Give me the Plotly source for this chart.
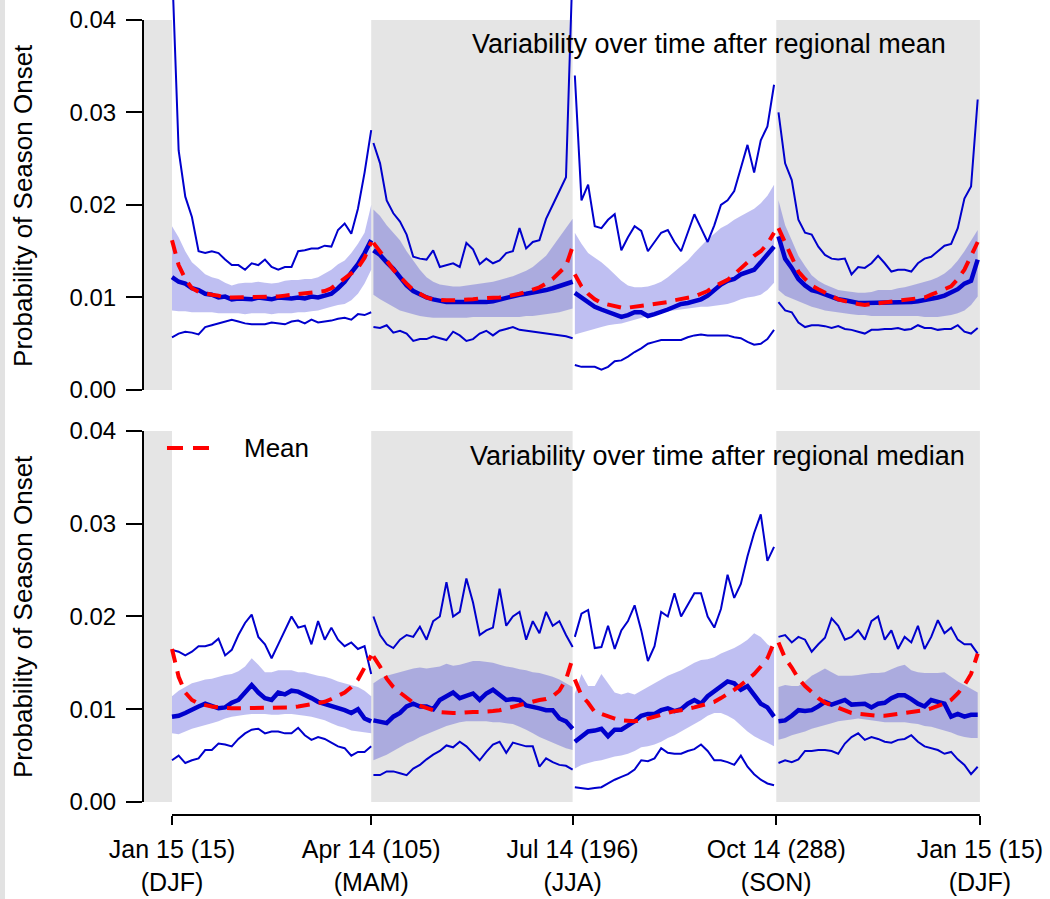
import plotly.graph_objects as go

# All probability values below are in units of 0.0001
UNIT = 1e-4

# Day-of-year sampling grid for each seasonal segment
DAYS_DJF = list(range(15, 106, 3))
DAYS_MAM = list(range(106, 197, 3))
DAYS_JJA = list(range(197, 288, 3))
DAYS_SON = list(range(289, 380, 3))

TICK_DAYS = [15, 105, 196, 288, 380]
TICK_TEXT = ["Jan 15 (15)<br>(DJF)", "Apr 14 (105)<br>(MAM)", "Jul 14 (196)<br>(JJA)",
             "Oct 14 (288)<br>(SON)", "Jan 15 (15)<br>(DJF)"]
Y_TICKS = [0.0, 0.01, 0.02, 0.03, 0.04]
Y_TICK_TEXT = ["0.00", "0.01", "0.02", "0.03", "0.04"]
SHADED_SEASONS = [(105, 196), (288, 380)]

# ---------------- Top panel: after regional mean ----------------
TOP_UP_DJF = [460, 259, 209, 187, 150, 148, 150, 148, 141, 135, 135, 130, 137, 135, 141, 133, 130, 133, 133, 150, 151, 153, 153, 156, 155, 173, 180, 169, 196, 235, 281]
TOP_LO_DJF = [57, 61, 63, 62, 60, 68, 70, 72, 74, 76, 74, 72, 71, 71, 71, 73, 72, 71, 74, 75, 72, 76, 73, 74, 75, 77, 78, 76, 82, 81, 84]
TOP_BHI_DJF = [177, 165, 150, 138, 132, 125, 122, 120, 116, 113, 115, 116, 116, 117, 116, 115, 116, 118, 119, 119, 120, 120, 122, 126, 130, 136, 140, 148, 158, 170, 200]
TOP_BLO_DJF = [86, 85, 85, 84, 84, 84, 84, 83, 83, 83, 83, 82, 83, 83, 83, 82, 83, 83, 83, 84, 84, 85, 86, 88, 90, 92, 93, 97, 104, 115, 130]
TOP_MED_DJF = [122, 117, 115, 110, 108, 104, 103, 100, 101, 98, 99, 99, 98, 100, 99, 98, 100, 99, 99, 100, 99, 101, 100, 102, 104, 110, 117, 127, 136, 148, 162]
TOP_AVG_DJF = [162, 135, 120, 110, 106, 104, 103, 102, 100, 100, 100, 100, 100, 100, 101, 101, 101, 102, 103, 104, 105, 105, 106, 107, 110, 115, 120, 126, 132, 143, 160]

TOP_UP_MAM = [267, 245, 205, 191, 182, 168, 144, 142, 141, 151, 133, 135, 137, 133, 159, 152, 136, 142, 137, 140, 148, 150, 175, 153, 160, 162, 185, 200, 215, 230, 460]
TOP_LO_MAM = [68, 67, 70, 62, 64, 61, 53, 55, 55, 58, 56, 54, 63, 59, 53, 55, 61, 64, 59, 64, 66, 68, 65, 64, 63, 62, 61, 60, 59, 58, 56]
TOP_BHI_MAM = [195, 188, 178, 170, 162, 150, 140, 130, 122, 117, 114, 113, 112, 112, 113, 114, 115, 116, 117, 119, 121, 123, 126, 129, 133, 139, 145, 155, 165, 175, 185]
TOP_BLO_MAM = [103, 98, 94, 90, 86, 84, 82, 80, 79, 78, 78, 78, 78, 78, 78, 79, 79, 79, 79, 79, 79, 79, 79, 80, 80, 81, 82, 83, 84, 86, 88]
TOP_MED_MAM = [151, 146, 138, 131, 122, 113, 107, 103, 100, 98, 96, 95, 95, 95, 95, 94, 94, 95, 96, 98, 100, 101, 103, 104, 105, 107, 108, 110, 112, 114, 117]
TOP_AVG_MAM = [159, 150, 140, 130, 122, 115, 108, 104, 100, 98, 97, 97, 97, 97, 98, 98, 99, 99, 99, 100, 101, 102, 104, 106, 108, 111, 115, 120, 127, 134, 155]

TOP_UP_JJA = [340, 205, 222, 177, 175, 184, 190, 151, 165, 177, 172, 150, 160, 170, 173, 160, 150, 170, 190, 175, 160, 178, 200, 205, 215, 240, 265, 235, 270, 285, 330]
TOP_LO_JJA = [27, 25, 25, 25, 22, 25, 31, 32, 36, 41, 45, 50, 52, 54, 54, 54, 54, 57, 59, 60, 59, 59, 59, 59, 57, 56, 52, 49, 50, 55, 65]
TOP_BHI_JJA = [170, 158, 148, 143, 138, 132, 125, 118, 113, 111, 111, 112, 114, 117, 122, 128, 134, 140, 148, 156, 163, 169, 175, 179, 184, 188, 192, 196, 202, 210, 222]
TOP_BLO_JJA = [60, 62, 64, 66, 68, 70, 71, 72, 74, 76, 78, 80, 82, 83, 85, 86, 87, 88, 89, 90, 90, 91, 92, 93, 95, 98, 100, 101, 103, 108, 116]
TOP_MED_JJA = [105, 100, 95, 90, 87, 84, 82, 79, 81, 84, 84, 80, 82, 84, 87, 90, 93, 94, 96, 98, 102, 108, 114, 118, 120, 125, 128, 130, 138, 146, 155]
TOP_AVG_JJA = [125, 112, 104, 98, 94, 92, 90, 89, 89, 90, 90, 91, 92, 93, 95, 97, 98, 99, 101, 104, 107, 112, 116, 119, 125, 131, 138, 145, 150, 158, 170]

TOP_UP_SON = [300, 245, 227, 184, 170, 168, 155, 146, 142, 141, 142, 125, 133, 132, 137, 145, 137, 128, 130, 130, 128, 137, 142, 144, 150, 156, 158, 175, 207, 220, 314]
TOP_LO_SON = [95, 86, 84, 73, 68, 70, 70, 69, 67, 69, 66, 65, 63, 61, 65, 65, 66, 66, 67, 65, 66, 70, 67, 67, 65, 66, 66, 70, 63, 61, 67]
TOP_BHI_SON = [205, 178, 162, 145, 134, 124, 118, 114, 111, 108, 107, 106, 105, 105, 106, 108, 108, 108, 110, 111, 113, 115, 117, 119, 122, 126, 132, 140, 150, 162, 173]
TOP_BLO_SON = [108, 102, 99, 96, 93, 90, 88, 86, 85, 84, 83, 82, 81, 81, 80, 80, 80, 80, 80, 80, 80, 80, 79, 79, 79, 80, 81, 83, 86, 92, 101]
TOP_MED_SON = [166, 142, 132, 120, 113, 108, 106, 103, 100, 98, 97, 95, 94, 94, 94, 94, 94, 95, 95, 95, 95, 96, 97, 98, 100, 102, 106, 109, 115, 118, 141]
TOP_AVG_SON = [175, 160, 143, 128, 120, 113, 109, 105, 101, 98, 96, 94, 93, 92, 93, 94, 95, 95, 96, 97, 98, 99, 100, 103, 106, 108, 112, 120, 130, 145, 160]

# ---------------- Bottom panel: after regional median ----------------
BOT_UP_DJF = [164, 162, 158, 162, 168, 168, 170, 176, 158, 164, 180, 193, 202, 178, 170, 155, 170, 185, 200, 188, 190, 170, 195, 175, 188, 175, 168, 172, 165, 168, 138]
BOT_LO_DJF = [45, 50, 42, 45, 47, 56, 56, 63, 62, 60, 68, 74, 78, 79, 74, 76, 76, 74, 74, 80, 72, 67, 70, 68, 64, 60, 58, 50, 54, 54, 60]
BOT_BHI_DJF = [114, 120, 124, 128, 130, 132, 133, 135, 137, 138, 141, 146, 155, 148, 140, 140, 142, 142, 142, 140, 140, 138, 136, 135, 133, 130, 128, 126, 124, 120, 114]
BOT_BLO_DJF = [74, 73, 76, 79, 81, 83, 85, 87, 90, 92, 93, 94, 95, 95, 95, 94, 94, 95, 95, 94, 93, 92, 90, 88, 85, 82, 80, 77, 76, 75, 74]
BOT_MED_DJF = [92, 93, 96, 100, 103, 106, 104, 101, 102, 107, 110, 118, 126, 118, 112, 110, 118, 116, 120, 119, 116, 112, 108, 106, 104, 101, 99, 96, 100, 90, 87]
BOT_AVG_DJF = [165, 135, 118, 110, 106, 104, 103, 102, 101, 101, 101, 101, 101, 101, 101, 101, 101, 101, 102, 103, 104, 105, 106, 108, 111, 114, 118, 124, 132, 145, 158]

BOT_UP_MAM = [200, 180, 170, 166, 175, 180, 178, 189, 175, 195, 200, 237, 200, 205, 241, 215, 180, 185, 188, 230, 190, 200, 205, 175, 195, 182, 205, 190, 195, 180, 167]
BOT_LO_MAM = [29, 29, 33, 33, 31, 29, 36, 40, 46, 51, 55, 61, 59, 65, 60, 52, 45, 54, 62, 65, 53, 64, 62, 60, 60, 38, 47, 43, 40, 39, 35]
BOT_BHI_MAM = [128, 133, 136, 138, 140, 142, 144, 145, 144, 145, 146, 149, 147, 148, 150, 152, 152, 151, 150, 148, 146, 145, 143, 142, 140, 139, 137, 135, 132, 128, 124]
BOT_BLO_MAM = [45, 48, 51, 55, 59, 63, 66, 70, 73, 76, 79, 82, 84, 86, 87, 87, 87, 87, 86, 86, 85, 84, 81, 78, 74, 70, 67, 64, 61, 58, 56]
BOT_MED_MAM = [88, 86, 85, 92, 96, 103, 106, 103, 103, 100, 110, 114, 118, 112, 115, 117, 110, 117, 121, 115, 110, 111, 110, 104, 103, 101, 99, 99, 90, 87, 79]
BOT_AVG_MAM = [157, 146, 133, 124, 118, 112, 107, 104, 101, 99, 97, 96, 96, 96, 97, 97, 97, 97, 98, 99, 101, 103, 105, 107, 108, 110, 111, 114, 120, 132, 155]

BOT_UP_JJA = [178, 203, 207, 166, 167, 190, 165, 185, 195, 212, 185, 152, 168, 205, 200, 225, 200, 212, 225, 225, 200, 188, 208, 245, 220, 235, 265, 290, 310, 260, 275]
BOT_LO_JJA = [16, 15, 14, 15, 16, 20, 24, 27, 30, 35, 45, 44, 47, 58, 53, 52, 52, 55, 57, 62, 55, 45, 45, 43, 40, 50, 38, 30, 24, 20, 18]
BOT_BHI_JJA = [117, 138, 125, 125, 138, 128, 118, 116, 118, 116, 120, 124, 128, 132, 136, 139, 142, 146, 150, 153, 154, 156, 160, 163, 166, 170, 175, 182, 178, 170, 165]
BOT_BLO_JJA = [36, 40, 42, 44, 45, 47, 49, 50, 52, 55, 59, 60, 62, 65, 69, 72, 76, 80, 84, 88, 93, 96, 96, 93, 89, 83, 76, 71, 67, 64, 60]
BOT_MED_JJA = [65, 70, 76, 77, 79, 71, 78, 78, 82, 87, 93, 95, 95, 99, 101, 98, 100, 106, 110, 106, 114, 119, 125, 130, 128, 121, 125, 115, 106, 102, 92]
BOT_AVG_JJA = [132, 115, 107, 97, 95, 92, 90, 88, 87, 87, 88, 90, 92, 95, 97, 98, 99, 100, 102, 104, 106, 108, 112, 116, 121, 126, 132, 138, 146, 155, 172]

BOT_UP_SON = [178, 180, 172, 178, 175, 162, 170, 177, 198, 190, 175, 178, 185, 175, 195, 200, 175, 185, 165, 178, 172, 190, 165, 178, 196, 182, 188, 175, 170, 170, 160]
BOT_LO_SON = [42, 45, 43, 46, 55, 55, 56, 56, 55, 52, 63, 70, 74, 67, 70, 68, 65, 64, 67, 68, 72, 65, 60, 58, 56, 52, 54, 46, 40, 30, 38]
BOT_BHI_SON = [124, 126, 125, 125, 130, 136, 140, 144, 140, 136, 136, 136, 137, 138, 139, 139, 140, 143, 146, 148, 142, 140, 139, 139, 139, 140, 135, 130, 126, 122, 118]
BOT_BLO_SON = [67, 69, 72, 74, 76, 79, 81, 83, 85, 87, 88, 89, 90, 89, 88, 87, 86, 86, 86, 86, 85, 84, 82, 81, 79, 77, 75, 72, 70, 69, 69]
BOT_MED_SON = [87, 88, 93, 99, 98, 99, 103, 108, 105, 107, 110, 105, 105, 106, 102, 106, 107, 112, 115, 115, 111, 106, 103, 110, 108, 106, 92, 95, 92, 94, 94]
BOT_AVG_SON = [172, 155, 145, 133, 125, 118, 112, 107, 104, 101, 98, 96, 95, 94, 93, 93, 93, 94, 95, 95, 96, 97, 99, 101, 103, 106, 110, 117, 126, 138, 160]

# ---------------- Styling ----------------
XMIN, XMAX = 1.9, 394.5
BLUE = "#0000CD"
BAND = "rgba(0,0,205,0.25)"
GRAY = "#E5E5E5"
RED = "#FF0000"
FONT = "Liberation Sans, Arial, Helvetica, sans-serif"

fig = go.Figure()


def scaled(vals):
    return [v * UNIT for v in vals]


def add_segment(days, up, lo, bhi, blo, med, avg, xa, ya):
    common = dict(xaxis=xa, yaxis=ya, hoverinfo="skip", showlegend=False)
    fig.add_trace(go.Scatter(x=days + days[::-1], y=scaled(bhi) + scaled(blo)[::-1],
                             fill="toself", fillcolor=BAND, mode="lines",
                             line=dict(width=0), **common))
    fig.add_trace(go.Scatter(x=days, y=scaled(up), mode="lines",
                             line=dict(color=BLUE, width=2), **common))
    fig.add_trace(go.Scatter(x=days, y=scaled(lo), mode="lines",
                             line=dict(color=BLUE, width=2), **common))
    fig.add_trace(go.Scatter(x=days, y=scaled(med), mode="lines",
                             line=dict(color=BLUE, width=4.5), **common))
    fig.add_trace(go.Scatter(x=days, y=scaled(avg), mode="lines",
                             line=dict(color=RED, width=4, dash="14px,9px"), **common))


add_segment(DAYS_DJF, TOP_UP_DJF, TOP_LO_DJF, TOP_BHI_DJF, TOP_BLO_DJF, TOP_MED_DJF, TOP_AVG_DJF, "x", "y")
add_segment(DAYS_MAM, TOP_UP_MAM, TOP_LO_MAM, TOP_BHI_MAM, TOP_BLO_MAM, TOP_MED_MAM, TOP_AVG_MAM, "x", "y")
add_segment(DAYS_JJA, TOP_UP_JJA, TOP_LO_JJA, TOP_BHI_JJA, TOP_BLO_JJA, TOP_MED_JJA, TOP_AVG_JJA, "x", "y")
add_segment(DAYS_SON, TOP_UP_SON, TOP_LO_SON, TOP_BHI_SON, TOP_BLO_SON, TOP_MED_SON, TOP_AVG_SON, "x", "y")

add_segment(DAYS_DJF, BOT_UP_DJF, BOT_LO_DJF, BOT_BHI_DJF, BOT_BLO_DJF, BOT_MED_DJF, BOT_AVG_DJF, "x2", "y2")
add_segment(DAYS_MAM, BOT_UP_MAM, BOT_LO_MAM, BOT_BHI_MAM, BOT_BLO_MAM, BOT_MED_MAM, BOT_AVG_MAM, "x2", "y2")
add_segment(DAYS_JJA, BOT_UP_JJA, BOT_LO_JJA, BOT_BHI_JJA, BOT_BLO_JJA, BOT_MED_JJA, BOT_AVG_JJA, "x2", "y2")
add_segment(DAYS_SON, BOT_UP_SON, BOT_LO_SON, BOT_BHI_SON, BOT_BLO_SON, BOT_MED_SON, BOT_AVG_SON, "x2", "y2")

shapes = []
# faint page strip at far left
shapes.append(dict(type="rect", xref="paper", yref="paper", x0=-0.1646, x1=-0.1588,
                   y0=-0.104, y1=1.0, fillcolor="#E2E2E2", line=dict(width=0), layer="below"))
for xa, ya in (("x", "y"), ("x2", "y2")):
    spans = [(XMIN, 15)] + SHADED_SEASONS
    for a, b in spans:
        shapes.append(dict(type="rect", xref=xa, yref=ya, x0=a, x1=b, y0=0, y1=0.04,
                           fillcolor=GRAY, line=dict(width=0), layer="below"))
    # y-axis line limited to 0..0.04
    shapes.append(dict(type="line", xref=xa + " domain", yref=ya, x0=0, x1=0, y0=0, y1=0.04,
                       line=dict(color="black", width=2)))
# x-axis line limited to the tick range
shapes.append(dict(type="line", xref="x2", yref="y2 domain", x0=TICK_DAYS[0], x1=TICK_DAYS[-1],
                   y0=0, y1=0, line=dict(color="black", width=2)))
# legend sample
shapes.append(dict(type="line", xref="paper", yref="paper", x0=0.0276, x1=0.0771,
                   y0=0.4503, y1=0.4503, line=dict(color=RED, width=4, dash="16px,10px")))

annotations = [
    dict(text="Variability over time after regional mean", xref="paper", yref="paper",
         x=0.9264, y=0.9465, xanchor="right", yanchor="middle", showarrow=False,
         font=dict(family=FONT, size=27, color="black")),
    dict(text="Variability over time after regional median", xref="paper", yref="paper",
         x=0.9482, y=0.441, xanchor="right", yanchor="middle", showarrow=False,
         font=dict(family=FONT, size=27, color="black")),
    dict(text="Mean", xref="paper", yref="paper", x=0.1139, y=0.4503,
         xanchor="left", yanchor="middle", showarrow=False,
         font=dict(family=FONT, size=26, color="black")),
    dict(text="Probability of Season Onset", xref="paper", yref="paper", x=-0.1381, y=0.7485,
         xanchor="center", yanchor="middle", textangle=-90, showarrow=False,
         font=dict(family=FONT, size=26, color="black")),
    dict(text="Probability of Season Onset", xref="paper", yref="paper", x=-0.1381, y=0.2442,
         xanchor="center", yanchor="middle", textangle=-90, showarrow=False,
         font=dict(family=FONT, size=26, color="black")),
]

yaxis_common = dict(tickvals=Y_TICKS, ticktext=Y_TICK_TEXT, ticks="outside", ticklen=16,
                    tickwidth=2, tickcolor="black", showgrid=False, zeroline=False,
                    showline=False, ticklabelstandoff=5, automargin=False,
                    tickfont=dict(family=FONT, size=24, color="black"))

fig.update_layout(
    width=1050, height=899,
    margin=dict(l=143, r=38, t=0, b=84, autoexpand=False),
    plot_bgcolor="white", paper_bgcolor="white",
    showlegend=False,
    xaxis=dict(domain=[0, 1], range=[XMIN, XMAX], anchor="y", showticklabels=False,
               ticks="", showgrid=False, zeroline=False, showline=False, automargin=False),
    xaxis2=dict(domain=[0, 1], range=[XMIN, XMAX], anchor="y2", matches="x",
                tickvals=TICK_DAYS, ticktext=TICK_TEXT, ticks="outside", ticklen=9,
                tickwidth=2, tickcolor="black", showgrid=False, zeroline=False,
                showline=False, ticklabelstandoff=3, automargin=False,
                tickfont=dict(family=FONT, size=25, color="black")),
    yaxis=dict(domain=[0.5215, 1], range=[0, 0.042162], anchor="x", **yaxis_common),
    yaxis2=dict(domain=[0, 0.4712], range=[-0.0014016, 0.04], anchor="x2", **yaxis_common),
    shapes=shapes,
    annotations=annotations,
)

fig.write_html("out.html")
